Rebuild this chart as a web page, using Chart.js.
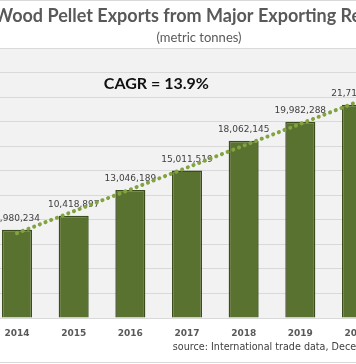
<!DOCTYPE html>
<html>
<head>
<meta charset="utf-8">
<script src="https://cdn.jsdelivr.net/npm/chart.js@4"></script>
<style>
  html, body { margin: 0; padding: 0; background: #ffffff; overflow: hidden; width: 356px; height: 364px; }
  #wrap { position: absolute; left: -20px; top: 0; width: 438px; height: 364px; }
</style>
</head>
<body>
<div id="wrap"><canvas id="c" width="438" height="364"></canvas></div>
<script>
const years = ['2014', '2015', '2016', '2017', '2018', '2019', '2020'];
const exportTonnes = [8980234, 10418897, 13046189, 15011519, 18062145, 19982288, 21715000];
const trendTonnes = [8640000, 10870000, 13090000, 15320000, 17550000, 19770000, 22000000];
const yTickStep = 2500000;
const yMax = 27500000;
const titleText = 'Wood Pellet Exports from Major Exporting Regions';
const subtitleText = '(metric tonnes)';
const cagrText = 'CAGR = 13.9%';
const sourceText = 'source: International trade data, December';

const fmt = v => v.toLocaleString('en-US');

const decor = {
  id: 'decor',
  beforeDraw(chart) {
    const { ctx, chartArea: a, width, height } = chart;
    ctx.save();
    ctx.fillStyle = '#ffffff';
    ctx.fillRect(0, 0, width, height);
    ctx.fillStyle = '#f2f2f2';
    ctx.fillRect(a.left, a.top, a.right - a.left, a.bottom - a.top);
    ctx.strokeStyle = '#d9d9d9';
    ctx.lineWidth = 1;
    ctx.beginPath();
    ctx.moveTo(0, 0.5); ctx.lineTo(width, 0.5);
    ctx.moveTo(0, height - 1.5); ctx.lineTo(width, height - 1.5);
    ctx.stroke();
    ctx.restore();
  },
  afterDatasetDraw(chart, args) {
    if (args.index !== 0) return;
    const { ctx } = chart;
    ctx.save();
    ctx.font = '9px "DejaVu Sans"';
    ctx.fillStyle = '#404040';
    ctx.textAlign = 'center';
    ctx.textBaseline = 'alphabetic';
    args.meta.data.forEach((bar, i) => {
      ctx.fillText(fmt(exportTonnes[i]), bar.x, bar.y - 9);
    });
    ctx.restore();
  },
  afterDraw(chart) {
    const { ctx, chartArea: a, scales } = chart;
    ctx.save();
    ctx.font = 'bold 16px Lato';
    ctx.fillStyle = '#111111';
    ctx.textAlign = 'center';
    ctx.textBaseline = 'middle';
    ctx.fillText(cagrText, scales.x.getPixelForValue(2.46), scales.y.getPixelForValue(23850000));
    ctx.font = '9.6px "DejaVu Sans"';
    ctx.fillStyle = '#404040';
    ctx.textAlign = 'left';
    ctx.textBaseline = 'alphabetic';
    ctx.fillText(sourceText, scales.x.getPixelForValue(2.75), a.bottom + 32);
    ctx.restore();
  }
};

new Chart(document.getElementById('c'), {
  type: 'bar',
  data: {
    labels: years,
    datasets: [
      {
        type: 'bar',
        data: exportTonnes,
        backgroundColor: '#5a7230',
        borderColor: '#3b4c1d',
        borderWidth: 1.5,
        barPercentage: 0.53,
        categoryPercentage: 1,
        order: 1
      },
      {
        type: 'line',
        data: trendTonnes,
        borderColor: '#82a33f',
        borderWidth: 4,
        borderDash: [0.1, 6],
        borderCapStyle: 'round',
        pointRadius: 0,
        fill: false,
        tension: 0,
        order: 0
      }
    ]
  },
  options: {
    responsive: false,
    animation: false,
    devicePixelRatio: 1,
    layout: { padding: { left: 8.7, right: 8.7, top: 0, bottom: 0 } },
    plugins: {
      legend: { display: false },
      tooltip: { enabled: false },
      title: {
        display: true,
        text: titleText,
        color: '#595959',
        font: { family: 'Lato', size: 18, weight: 'bold', lineHeight: 1.2 },
        padding: { top: 5, bottom: 2 }
      },
      subtitle: {
        display: true,
        text: subtitleText,
        color: '#595959',
        font: { family: 'Lato', size: 13, lineHeight: 1.2 },
        padding: { top: 1.6, bottom: 2.2 }
      }
    },
    scales: {
      x: {
        grid: { display: false, drawTicks: false },
        border: { display: false },
        ticks: {
          color: '#595959',
          font: { family: 'DejaVu Sans', size: 9, weight: 'bold' },
          padding: 10,
          maxRotation: 0
        },
        afterFit(s) { s.height = 46; }
      },
      y: {
        min: 0,
        max: yMax,
        ticks: { display: false, stepSize: yTickStep },
        grid: { color: '#d9d9d9', drawTicks: false },
        border: { display: false }
      },
      y2: {
        type: 'linear',
        position: 'right',
        grid: { display: false, drawTicks: false },
        ticks: { display: false },
        border: { display: false },
        afterFit(s) { s.width = 24; }
      }
    }
  },
  plugins: [decor]
});
</script>
</body>
</html>
